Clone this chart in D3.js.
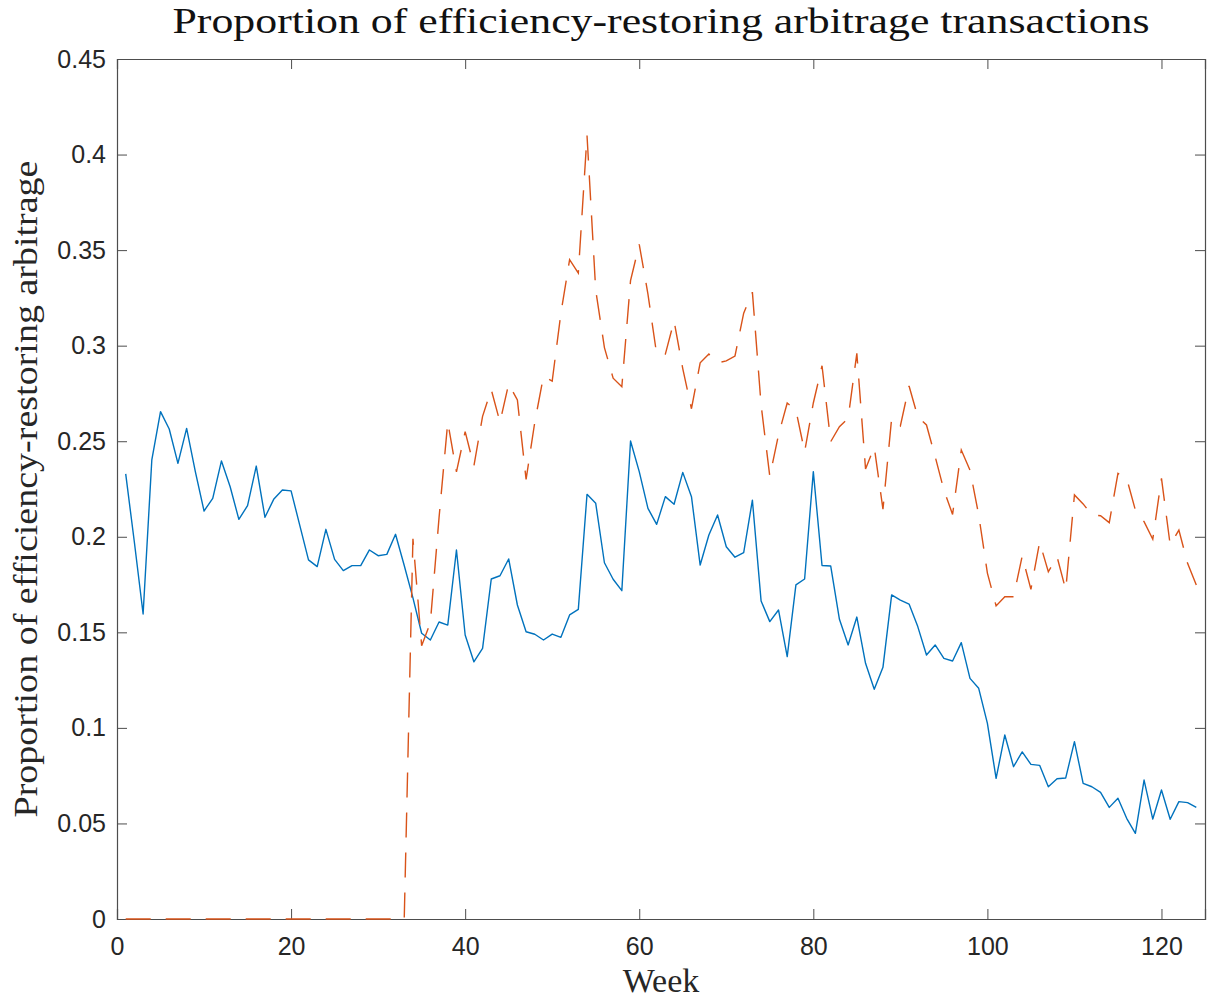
<!doctype html>
<html lang="en">
<head>
<meta charset="utf-8">
<title>Proportion of efficiency-restoring arbitrage transactions</title>
<style>
  body { margin: 0; background: #fff; }
  .tick text { font-family: "Liberation Sans", Arial, sans-serif; font-size: 25px; fill: #262626; }
  .tick line { stroke: #4d4d4d; }
  .domain { stroke: #4d4d4d; }
</style>
</head>
<body>
<div id="chart"></div>
<script src="https://d3js.org/d3.v7.min.js"></script>
<script>

// weeks 1..124 (x categories)
const weeks = d3.range(1, 125);

// solid blue series
const seriesBlue = [
  0.2329, 0.197, 0.1596, 0.2402, 0.2655, 0.2564, 0.2384, 0.2567, 0.2341, 0.2135,
  0.2201, 0.2397, 0.2262, 0.2091, 0.2163, 0.2370, 0.2102, 0.2196, 0.2245, 0.2240,
  0.2060, 0.1879, 0.1844, 0.2039, 0.1882, 0.1823, 0.1849, 0.1849, 0.1931, 0.1901,
  0.1908, 0.2013, 0.185, 0.168, 0.1495, 0.146, 0.1554, 0.1538, 0.1931, 0.1486,
  0.1346, 0.1416, 0.1779, 0.1796, 0.1884, 0.1643, 0.1503, 0.1490, 0.1460, 0.1491,
  0.1474, 0.1591, 0.1620, 0.2222, 0.2175, 0.1864, 0.1778, 0.1718, 0.2501, 0.2341,
  0.2149, 0.2065, 0.2210, 0.2170, 0.2337, 0.2210, 0.1852, 0.2009, 0.2114, 0.1948,
  0.1893, 0.1917, 0.2192, 0.1664, 0.1556, 0.1617, 0.1373, 0.1748, 0.1779, 0.2341,
  0.1850, 0.1847, 0.1568, 0.1434, 0.1580, 0.1338, 0.1202, 0.1317, 0.1696, 0.1669,
  0.1648, 0.1530, 0.1381, 0.1434, 0.1364, 0.1350, 0.1446, 0.1259, 0.1207, 0.1024,
  0.0736, 0.0963, 0.0797, 0.0874, 0.0809, 0.0804, 0.0692, 0.0734, 0.0738, 0.0928,
  0.0710, 0.0692, 0.0663, 0.0584, 0.0632, 0.0527, 0.0448, 0.0727, 0.0523, 0.0675,
  0.0522, 0.0614, 0.0609, 0.0584
];

// dashed orange series
const seriesOrange = [
  0, 0, 0, 0, 0, 0, 0, 0, 0, 0,
  0, 0, 0, 0, 0, 0, 0, 0, 0, 0,
  0, 0, 0, 0, 0, 0, 0, 0, 0, 0,
  0, 0, 0, 0.199, 0.143, 0.155, 0.21, 0.260, 0.234, 0.255,
  0.237, 0.263, 0.277, 0.260, 0.280, 0.2716, 0.230, 0.260, 0.284, 0.2815,
  0.317, 0.345, 0.338, 0.410, 0.329, 0.299, 0.283, 0.2785, 0.334, 0.353,
  0.327, 0.2956, 0.2956, 0.313, 0.288, 0.267, 0.291, 0.2956, 0.291, 0.292,
  0.2946, 0.317, 0.328, 0.269, 0.2316, 0.2533, 0.270, 0.2663, 0.2445, 0.27,
  0.2895, 0.2498, 0.2576, 0.262, 0.296, 0.2355, 0.247, 0.2144, 0.262, 0.258,
  0.2789, 0.2628, 0.2585, 0.2419, 0.2245, 0.2117, 0.2454, 0.2349, 0.2114, 0.181,
  0.1638, 0.1686, 0.1686, 0.1899, 0.1725, 0.1972, 0.1817, 0.1896, 0.1722, 0.2219,
  0.2172, 0.2114, 0.211, 0.2074, 0.2332, 0.2306, 0.214, 0.2079, 0.1987, 0.2306,
  0.1957, 0.2035, 0.1861, 0.1748
];

const xTicks = [0, 20, 40, 60, 80, 100, 120];
const yTicks = [0, 0.05, 0.1, 0.15, 0.2, 0.25, 0.3, 0.35, 0.4, 0.45];

const titleText = "Proportion of efficiency-restoring arbitrage transactions";
const xLabel = "Week";
const yLabel = "Proportion of efficiency-restoring arbitrage";

const width = 1207;
const height = 1000;
const margin = {top: 59, right: 2, bottom: 81, left: 117};

const svg = d3.select("#chart").append("svg")
    .attr("width", width)
    .attr("height", height);

const x = d3.scaleLinear()
    .domain([0, 125])
    .range([margin.left, width - margin.right]);

const y = d3.scaleLinear()
    .domain([0, 0.45])
    .range([height - margin.bottom, margin.top]);

const fmt = d => d === 0 ? "0" : String(+d.toFixed(2));

// axes, ticks point inward like the MATLAB box
svg.append("g")
    .attr("transform", "translate(0," + y(0) + ")")
    .call(d3.axisBottom(x).tickValues(xTicks).tickSize(-10).tickPadding(18).tickFormat(fmt));

svg.append("g")
    .attr("transform", "translate(0," + y(0.45) + ")")
    .call(d3.axisTop(x).tickValues(xTicks).tickSize(-10).tickFormat(""));

svg.append("g")
    .attr("transform", "translate(" + x(0) + ",0)")
    .call(d3.axisLeft(y).tickValues(yTicks).tickSize(-10).tickPadding(11).tickFormat(fmt));

svg.append("g")
    .attr("transform", "translate(" + x(125) + ",0)")
    .call(d3.axisRight(y).tickValues(yTicks).tickSize(-10).tickFormat(""));

svg.selectAll(".domain").attr("stroke-width", 1.2);

// lines
const line = d3.line()
    .x((d, i) => x(weeks[i]))
    .y(d => y(d));

svg.append("path")
    .datum(seriesBlue)
    .attr("fill", "none")
    .attr("stroke", "#0072BD")
    .attr("stroke-width", 1.4)
    .attr("stroke-linejoin", "round")
    .attr("d", line);

svg.append("path")
    .datum(seriesOrange)
    .attr("fill", "none")
    .attr("stroke", "#D95319")
    .attr("stroke-width", 1.4)
    .attr("stroke-dasharray", "25,15")
    .attr("d", line);

// labels (LaTeX-like serif)
const serif = "'Liberation Serif', 'Times New Roman', serif";

svg.append("text")
    .attr("x", (x(0) + x(125)) / 2)
    .attr("y", 33)
    .attr("text-anchor", "middle")
    .attr("textLength", 977)
    .attr("lengthAdjust", "spacingAndGlyphs")
    .style("font-family", serif)
    .style("font-size", "35px")
    .style("fill", "#111")
    .text(titleText);

svg.append("text")
    .attr("x", (x(0) + x(125)) / 2)
    .attr("y", 992)
    .attr("text-anchor", "middle")
    .style("font-family", serif)
    .style("font-size", "34px")
    .style("fill", "#262626")
    .text(xLabel);

svg.append("text")
    .attr("transform", "translate(37," + (y(0) + y(0.45)) / 2 + ") rotate(-90)")
    .attr("text-anchor", "middle")
    .attr("textLength", 657)
    .attr("lengthAdjust", "spacingAndGlyphs")
    .style("font-family", serif)
    .style("font-size", "33px")
    .style("fill", "#262626")
    .text(yLabel);

</script>
</body>
</html>
